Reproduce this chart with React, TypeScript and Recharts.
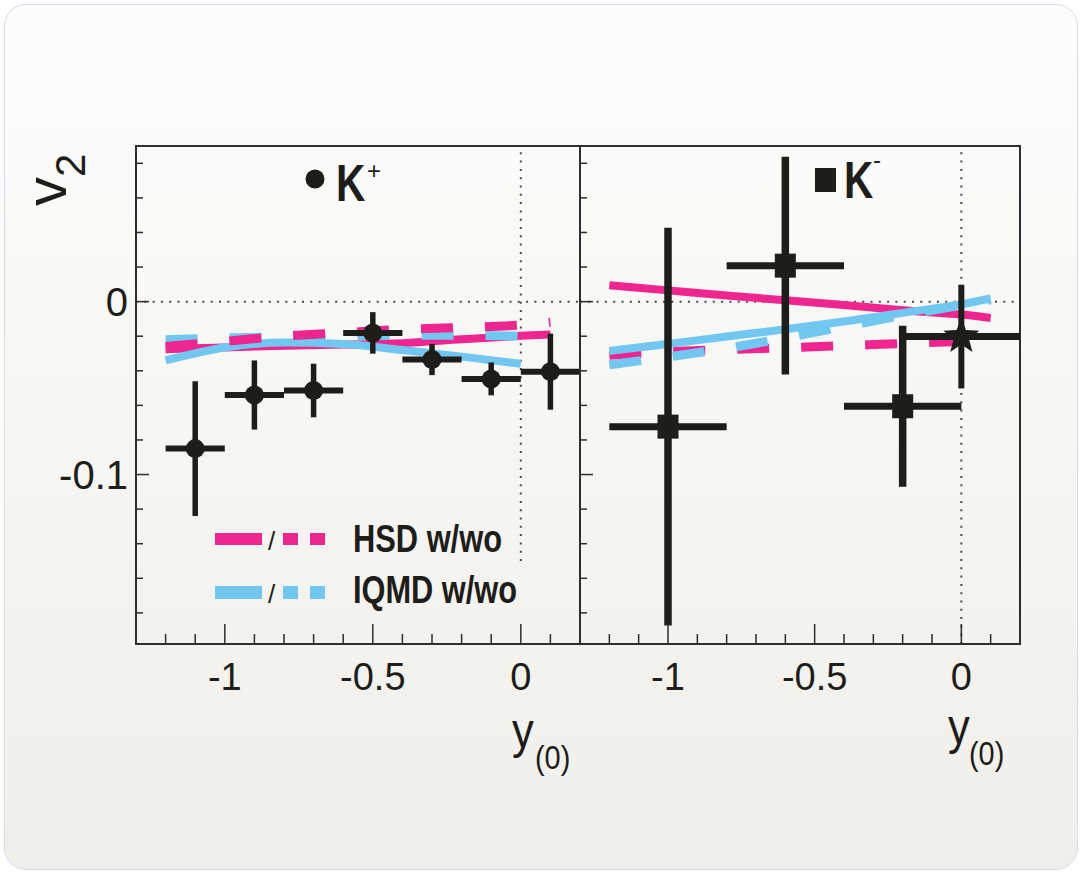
import React from 'react';
import { ComposedChart, Line, Scatter, ErrorBar, XAxis, YAxis, ReferenceLine, ReferenceArea } from 'recharts';

const W = 1081;
const H = 873;
const INK = '#1d1d1a';
const FRAME = '#2e2e2e';
const PINK = '#ef2590';
const BLUE = '#71c7ef';
const FONT = "'Liberation Sans', Arial, Helvetica, sans-serif";

// axes
const xDomain: [number, number] = [-1.3, 0.2];
const yDomain: [number, number] = [-0.198, 0.09];
const xTicks = [-1.2, -1.1, -1, -0.9, -0.8, -0.7, -0.6, -0.5, -0.4, -0.3, -0.2, -0.1, 0, 0.1];
const xLabeled = [-1, -0.5, 0];
const yTicks = [-0.18, -0.16, -0.14, -0.12, -0.1, -0.08, -0.06, -0.04, -0.02, 0, 0.02, 0.04, 0.06, 0.08];
const yLabeled = [-0.1, 0];

// K+ data: rapidity bin centre, v2, stat. error, half bin width
const kPlusY0 = [-1.1, -0.9, -0.7, -0.5, -0.3, -0.1, 0.1];
const kPlusV2 = [-0.085, -0.054, -0.0514, -0.0181, -0.0335, -0.0447, -0.0405];
const kPlusErr = [0.039, 0.02, 0.0155, 0.012, 0.009, 0.0095, 0.022];
const kPlusBin = [0.1, 0.1, 0.1, 0.1, 0.1, 0.1, 0.1];

// K- data
const kMinusY0 = [-1, -0.6, -0.2];
const kMinusV2 = [-0.0723, 0.0208, -0.0605];
const kMinusErr = [0.115, 0.063, 0.0465];
const kMinusBin = [0.2, 0.2, 0.2];

// K- midrapidity point (star)
const kMinusMidY0 = [0];
const kMinusMidV2 = [-0.0202];
const kMinusMidErr = [0.03];
const kMinusMidBin = [0.2];

// transport model curves
const modelY0 = [-1.2, -1, -0.8, -0.6, -0.4, -0.2, 0, 0.1];
const modelY0Short = [-1.2, -1, -0.8, -0.6, -0.4, -0.2, 0];

const hsdWithKPlus = [-0.0275, -0.0265, -0.0255, -0.0248, -0.024, -0.0218, -0.0198, -0.019];
const hsdWoKPlus = [-0.026, -0.023, -0.02, -0.018, -0.016, -0.015, -0.0135, -0.012];
const iqmdWithKPlus = [-0.034, -0.0265, -0.0237, -0.0245, -0.028, -0.0318, -0.036];
const iqmdWoKPlus = [-0.022, -0.021, -0.0205, -0.02, -0.0195, -0.0195, -0.02];

const hsdWithKMinus = [0.0095, 0.0065, 0.0035, 0.0008, -0.002, -0.005, -0.0075, -0.0095];
const hsdWoKMinus = [-0.031, -0.029, -0.0277, -0.0267, -0.0255, -0.0242, -0.023, -0.0225];
const iqmdWithKMinus = [-0.0285, -0.0245, -0.0202, -0.016, -0.0115, -0.0065, -0.0015, 0.0018];
const iqmdWoKMinus = [-0.0365, -0.032, -0.027, -0.021, -0.0145, -0.008, -0.002, 0.001];

const toCurve = (xs: number[], ys: number[]) => xs.map((x, i) => ({ x, y: ys[i] }));
const toPoints = (xs: number[], ys: number[], ey: number[], ex: number[]) =>
  xs.map((x, i) => ({ x, y: ys[i], ey: ey[i], ex: ex[i] }));

// ticks point into the plot, labels sit outside
const XTick = (props: any) => {
  const { x, y, payload } = props;
  const major = xLabeled.includes(payload.value);
  return (
    <g>
      <line x1={x} x2={x} y1={y} y2={y - (major ? 20 : 10)} stroke={FRAME} strokeWidth={1.5} />
      {major && (
        <text x={x} y={y + 46} textAnchor="middle" fontSize={38} fontFamily={FONT} fill={INK}>
          {payload.value}
        </text>
      )}
    </g>
  );
};

const makeYTick = (withLabels: boolean) => (props: any) => {
  const { x, y, payload } = props;
  const major = yLabeled.includes(payload.value);
  return (
    <g>
      <line x1={x} x2={x + (major ? 13 : 7)} y1={y} y2={y} stroke={FRAME} strokeWidth={1.5} />
      {withLabels && major && (
        <text x={x - 8} y={y} dy="0.36em" textAnchor="end" fontSize={40} fontFamily={FONT} fill={INK}>
          {payload.value}
        </text>
      )}
    </g>
  );
};

const Dot = (p: any) => <circle cx={p.cx} cy={p.cy} r={9.5} fill={INK} />;
const Square = (p: any) => <rect x={p.cx - 10.5} y={p.cy - 12} width={21} height={24} fill={INK} />;

const starPath = (cx: number, cy: number, R: number, r: number) => {
  let d = '';
  for (let i = 0; i < 10; i++) {
    const a = -Math.PI / 2 + (i * Math.PI) / 5;
    const rad = i % 2 === 0 ? R : r;
    d += (i === 0 ? 'M' : 'L') + (cx + rad * Math.cos(a)).toFixed(1) + ',' + (cy + rad * Math.sin(a)).toFixed(1);
  }
  return d + 'Z';
};
const Star = (p: any) => <path d={starPath(p.cx, p.cy, 19, 8)} fill={INK} />;

const dotted = { stroke: '#4a4a4a', strokeWidth: 2, strokeDasharray: '2 6.3' };

const AXIS_W = 40;
const AXIS_H = 60;

function Panel({ left, right, children, labels, verticalTop }: any) {
  return (
    <div style={{ position: 'absolute', left: 0, top: 0 }}>
      <ComposedChart width={W} height={H} margin={{ top: 146, left: left - AXIS_W, right, bottom: 229 - AXIS_H }}>
        <XAxis
          type="number"
          dataKey="x"
          domain={xDomain}
          ticks={xTicks}
          allowDataOverflow
          height={AXIS_H}
          axisLine={false}
          tickLine={false}
          tickSize={0}
          tickMargin={0}
          tick={(p: any) => <XTick {...p} />}
          interval={0}
        />
        <YAxis
          type="number"
          dataKey="y"
          domain={yDomain}
          ticks={yTicks}
          allowDataOverflow
          width={AXIS_W}
          axisLine={false}
          tickLine={false}
          tickSize={0}
          tickMargin={0}
          tick={makeYTick(labels)}
          interval={0}
        />
        <ReferenceLine y={0} {...dotted} />
        <ReferenceLine
          segment={[
            { x: 0, y: verticalTop },
            { x: 0, y: yDomain[1] },
          ]}
          {...dotted}
        />
        <ReferenceArea x1={xDomain[0]} x2={xDomain[1]} y1={yDomain[0]} y2={yDomain[1]} fill="none" stroke={FRAME} strokeWidth={2} />
        {children}
      </ComposedChart>
    </div>
  );
}

const solid = { type: 'monotone' as const, dataKey: 'y', dot: false, isAnimationActive: false, strokeWidth: 8 };
const dashed = { ...solid, strokeWidth: 9, strokeDasharray: '32 32' };

export default function App() {
  return (
    <div style={{ position: 'absolute', left: 0, top: 0, width: W, height: H, overflow: 'hidden' }}>
      <div
        style={{
          position: 'absolute',
          left: 4,
          top: 4,
          width: 1072,
          height: 864,
          border: '1px solid #dadaf3',
          borderRadius: 22,
          background: 'linear-gradient(#fdfdfc, #f0efe9)',
        }}
      />

      {/* K+ panel */}
      <Panel left={136} right={W - 580} labels verticalTop={-0.15}>
        <Line data={toCurve(modelY0, hsdWithKPlus)} stroke={PINK} {...solid} />
        <Line data={toCurve(modelY0Short, iqmdWithKPlus)} stroke={BLUE} {...solid} />
        <Line data={toCurve(modelY0Short, iqmdWoKPlus)} stroke={BLUE} {...dashed} />
        <Line data={toCurve(modelY0, hsdWoKPlus)} stroke={PINK} {...dashed} />
        <Scatter data={toPoints(kPlusY0, kPlusV2, kPlusErr, kPlusBin)} shape={Dot} isAnimationActive={false}>
          <ErrorBar dataKey="ey" direction="y" width={0} stroke={INK} strokeWidth={5.5} isAnimationActive={false} />
          <ErrorBar dataKey="ex" direction="x" width={0} stroke={INK} strokeWidth={6} isAnimationActive={false} />
        </Scatter>
      </Panel>

      {/* K- panel */}
      <Panel left={580} right={W - 1020} labels={false} verticalTop={yDomain[0]}>
        <Line data={toCurve(modelY0, hsdWithKMinus)} stroke={PINK} {...solid} />
        <Line data={toCurve(modelY0, hsdWoKMinus)} stroke={PINK} {...dashed} />
        <Line data={toCurve(modelY0, iqmdWithKMinus)} stroke={BLUE} {...solid} />
        <Line data={toCurve(modelY0, iqmdWoKMinus)} stroke={BLUE} {...dashed} />
        <Scatter data={toPoints(kMinusY0, kMinusV2, kMinusErr, kMinusBin)} shape={Square} isAnimationActive={false}>
          <ErrorBar dataKey="ey" direction="y" width={0} stroke={INK} strokeWidth={7.5} isAnimationActive={false} />
          <ErrorBar dataKey="ex" direction="x" width={0} stroke={INK} strokeWidth={7} isAnimationActive={false} />
        </Scatter>
        <Scatter data={toPoints(kMinusMidY0, kMinusMidV2, kMinusMidErr, kMinusMidBin)} shape={Star} isAnimationActive={false}>
          <ErrorBar dataKey="ey" direction="y" width={0} stroke={INK} strokeWidth={6} isAnimationActive={false} />
          <ErrorBar dataKey="ex" direction="x" width={0} stroke={INK} strokeWidth={7} isAnimationActive={false} />
        </Scatter>
      </Panel>

      {/* titles, particle labels and legend */}
      <svg width={W} height={H} style={{ position: 'absolute', left: 0, top: 0, pointerEvents: 'none' }} fontFamily={FONT} fill={INK}>
        <text transform="translate(66,206) rotate(-90)" fontSize={58}>
          v<tspan dy={19} fontSize={42}>2</tspan>
        </text>

        <circle cx={315} cy={179} r={9.5} fill={INK} />
        <text transform="translate(336,201) scale(0.78,1)" fontSize={52} fontWeight="bold">K</text>
        <text x={367} y={179} fontSize={24}>+</text>

        <rect x={815} y={168} width={21} height={24} fill={INK} />
        <text transform="translate(844,198) scale(0.78,1)" fontSize={52} fontWeight="bold">K</text>
        <text x={873} y={168} fontSize={24}>-</text>

        <text transform="translate(512,748) scale(0.87,1)" fontSize={50}>y</text>
        <text transform="translate(535,769) scale(0.85,1)" fontSize={34}>(0)</text>
        <text transform="translate(948,744) scale(0.87,1)" fontSize={50}>y</text>
        <text transform="translate(969,765) scale(0.85,1)" fontSize={34}>(0)</text>

        <rect x={215} y={533} width={47} height={12} fill={PINK} />
        <text x={268} y={550} fontSize={26}>/</text>
        <rect x={283} y={533} width={15} height={12} fill={PINK} />
        <rect x={310} y={533} width={15} height={12} fill={PINK} />
        <text x={353} y={552} fontSize={38} fontWeight="bold" textLength={149} lengthAdjust="spacingAndGlyphs">HSD w/wo</text>

        <rect x={215} y={586} width={47} height={13} fill={BLUE} />
        <text x={268} y={603} fontSize={26}>/</text>
        <rect x={283} y={586} width={15} height={13} fill={BLUE} />
        <rect x={310} y={586} width={15} height={13} fill={BLUE} />
        <text x={353} y={603} fontSize={38} fontWeight="bold" textLength={164} lengthAdjust="spacingAndGlyphs">IQMD w/wo</text>
      </svg>
    </div>
  );
}
